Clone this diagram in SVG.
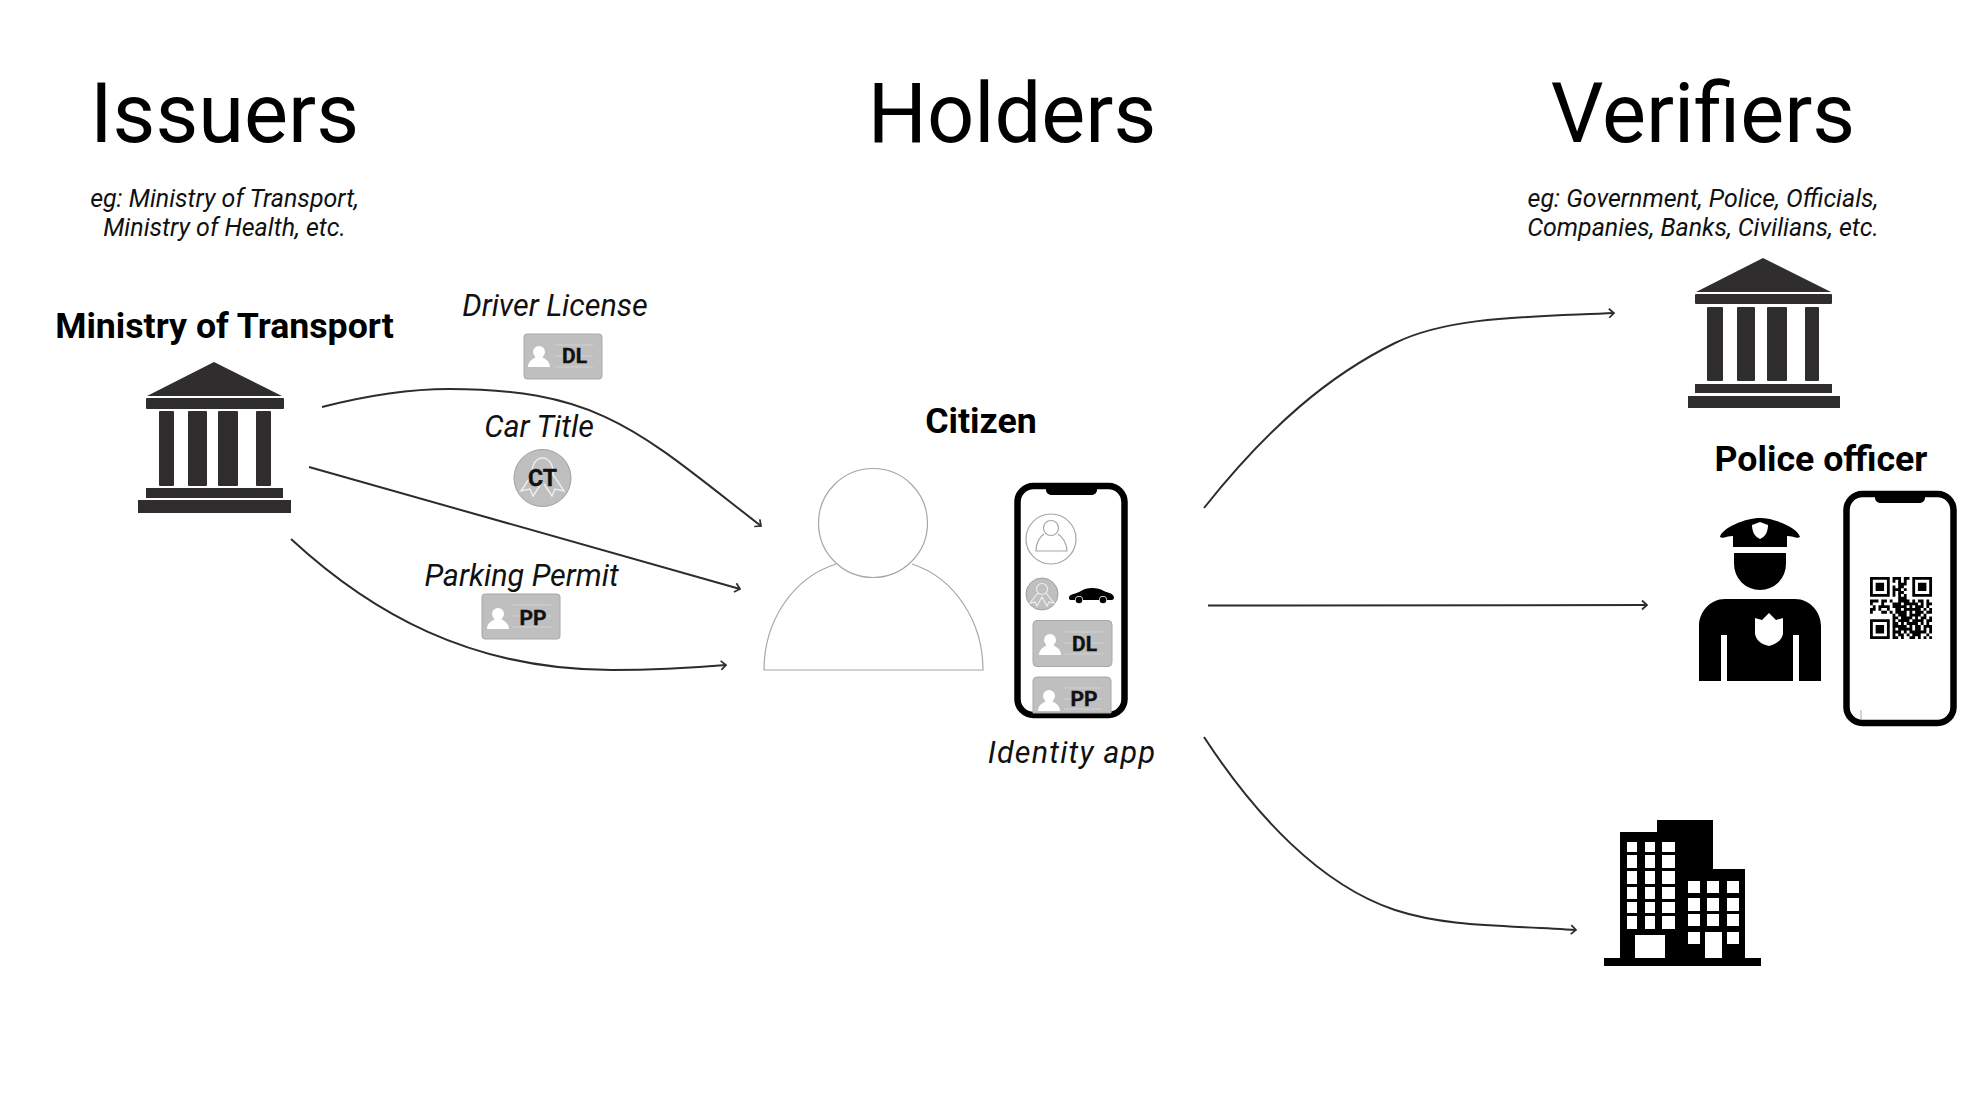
<svg xmlns="http://www.w3.org/2000/svg" xmlns:xlink="http://www.w3.org/1999/xlink" width="1966" height="1108" viewBox="0 0 1966 1108">
<style>
text{font-family:Roboto,"Liberation Sans",sans-serif;fill:#000;text-anchor:middle}
.title{font-size:83px}
.sub{font-size:25px;font-style:italic;fill:#111}
.b{font-size:35.700px;font-weight:700}
.i{font-size:30.500px;font-style:italic;fill:#111}
.code{font-weight:700;fill:#111;stroke:#111;stroke-width:.4;font-size:21px}
.conn{fill:none;stroke:#2c2c2c;stroke-width:2;marker-end:url(#arrow)}
.bank{fill:#2f2d2e}
.card{fill:#bfbfbf;stroke:#a8a8a8;stroke-width:1}
.ln{stroke:#d2d2d2;stroke-width:1;fill:none}
.w{fill:#fff}
.k{fill:#000}
.thin{fill:none;stroke:#a6a6a6;stroke-width:1.200}
.phone{fill:#fff;stroke:#000;stroke-width:6.500}
</style>
<defs>
<marker id="arrow" markerUnits="userSpaceOnUse" markerWidth="12" markerHeight="12" refX="9" refY="6" orient="auto" overflow="visible">
<path d="M4 1.500L9 6L4 10.500" fill="none" stroke="#2c2c2c" stroke-width="1.700"/>
</marker>
<g id="pers"><circle cx="0" cy="-5" r="6" class="w"/><path d="M-11 10C-11 4-6 2-3 0H3C6 2 11 4 11 10Z" class="w"/></g>
</defs>
<rect width="1966" height="1108" fill="#fff"/>

<g id="connectors">
<path class="conn" d="M322 407C365 396 410 389 449 389C600 389 640 432 761 526"/>
<path class="conn" d="M309 467L740 589"/>
<path class="conn" d="M291 539C370 612 470 670 612 670C650 670 690 668 726 665"/>
<path class="conn" d="M1204 508C1270 425 1330 375 1395 343C1450 316 1530 317 1614 313"/>
<path class="conn" d="M1208 605.500L1647 605"/>
<path class="conn" d="M1204 737C1255 815 1320 885 1395 910C1450 928 1510 925 1576 930"/>
</g>

<g id="headings">
<text class="title" x="224.500" y="142">Issuers</text>
<text class="title" x="1012" y="142">Holders</text>
<text class="title" x="1703" y="142">Verifiers</text>
<text class="sub" x="224.500" y="207">eg: Ministry of Transport,</text>
<text class="sub" x="224.500" y="236">Ministry of Health, etc.</text>
<text class="sub" x="1703" y="207">eg: Government, Police, Officials,</text>
<text class="sub" x="1703" y="236">Companies, Banks, Civilians, etc.</text>
</g>

<g id="issuer">
<text class="b" x="224.500" y="338">Ministry of Transport</text>
<g class="bank">
<path d="M214 362L282 396H147Z"/>
<rect x="146" y="398" width="138" height="11" rx="1"/>
<rect x="159" y="411" width="15" height="75" rx="1"/>
<rect x="188" y="411" width="19" height="75" rx="1"/>
<rect x="218" y="411" width="20" height="75" rx="1"/>
<rect x="256" y="411" width="15" height="75" rx="1"/>
<rect x="146" y="488" width="137" height="10"/>
<rect x="138" y="500" width="153" height="13"/>
</g>
</g>

<g id="driver-license">
<text class="i" x="555" y="316">Driver License</text>
<rect class="card" x="524" y="334" width="78" height="45" rx="3"/>
<path class="ln" d="M555 345H593M555 356H593M555 367H593"/>
<use xlink:href="#pers" href="#pers" transform="translate(539 357)"/>
<text class="code" x="574.500" y="363">DL</text>
</g>

<g id="car-title">
<text class="i" x="539" y="437">Car Title</text>
<circle cx="542.500" cy="478" r="28.500" fill="#bfbfbf" stroke="#a0a0a0"/>
<path d="M532 476C530 452 555 452 553 476M533 473L521 491L530 489L533 496L541 484M552 473L564 491L555 489L552 496L544 484" fill="none" stroke="#eee" stroke-width="1.400"/>
<text class="code" x="542.500" y="486" style="font-size:23px">CT</text>
</g>

<g id="parking-permit">
<text class="i" x="521.500" y="586">Parking Permit</text>
<rect class="card" x="482" y="594" width="78" height="45" rx="3"/>
<path class="ln" d="M513 605H551M513 616H551M513 627H551"/>
<use xlink:href="#pers" href="#pers" transform="translate(498 619)"/>
<text class="code" x="533" y="625">PP</text>
</g>

<g id="citizen">
<text class="b" x="981" y="433">Citizen</text>
<circle class="thin" cx="873" cy="523" r="54.500"/>
<path class="thin" d="M836 564C792 578 764 622 764 670H983C983 622 955 578 912 564"/>
</g>

<g id="identity-app">
<rect class="phone" x="1017.500" y="486" width="107" height="229" rx="16"/>
<path class="k" d="M1046 486H1097V490C1097 493 1094 495 1091 495H1052C1049 495 1046 493 1046 490Z"/>
<circle class="thin" cx="1051" cy="539" r="25"/>
<circle class="thin" cx="1051" cy="528" r="7.500"/>
<path class="thin" d="M1044 534C1039 537 1036 544 1036 551H1067C1067 544 1063 537 1058 534"/>
<circle cx="1042" cy="594" r="16" fill="#bfbfbf" stroke="#a0a0a0"/>
<circle cx="1042" cy="589" r="5.500" fill="none" stroke="#eee" stroke-width="1.200"/>
<path d="M1038 593L1030 603L1035 602L1037 606L1042 597L1047 606L1049 602L1054 603L1046 593" fill="none" stroke="#eee" stroke-width="1.200"/>
<path class="k" d="M1069 597C1070 594 1076 594 1081 591C1086 587 1098 587 1104 591C1108 593 1113 593 1114 597C1114 600 1112 600 1111 600H1107A4 4 0 0 0 1099 600H1083A4 4 0 0 0 1075 600H1071C1069 600 1069 599 1069 597Z"/>
<circle class="k" cx="1079" cy="600" r="3.300"/><circle class="k" cx="1103" cy="600" r="3.300"/>
<rect class="card" x="1033" y="620.500" width="79" height="46" rx="4"/>
<path class="ln" d="M1065 632H1103M1065 643H1103M1065 654H1103"/>
<use xlink:href="#pers" href="#pers" transform="translate(1050 645)"/>
<text class="code" x="1084.500" y="651">DL</text>
<path class="card" d="M1033 713V681Q1033 677 1037 677H1107Q1111 677 1111 681V713Z"/>
<path class="ln" d="M1064 688H1102M1064 699H1102M1064 709H1102"/>
<use xlink:href="#pers" href="#pers" transform="translate(1049 701)"/>
<text class="code" x="1084" y="706">PP</text>
<text class="i" x="1072" y="763" letter-spacing="1.200">Identity app</text>
</g>

<g id="verifier-government">
<g class="bank">
<path d="M1763 258L1831 292H1696Z"/>
<rect x="1695" y="294" width="137" height="10" rx="1"/>
<rect x="1707" y="307" width="16" height="74" rx="1"/>
<rect x="1737" y="307" width="18" height="74" rx="1"/>
<rect x="1767" y="307" width="20" height="74" rx="1"/>
<rect x="1805" y="307" width="14" height="74" rx="1"/>
<rect x="1695" y="384" width="137" height="9"/>
<rect x="1688" y="396" width="152" height="12"/>
</g>
</g>

<g id="verifier-police">
<text class="b" x="1821" y="471">Police officer</text>
<path class="k" d="M1720 537C1722 528 1745 518 1760 518C1775 518 1798 528 1800 537C1797 539 1793 536 1787 536V547H1733V536C1727 536 1723 539 1720 537Z"/>
<path class="w" d="M1752 525L1760 522L1768 525C1768 532 1765 537 1760 539C1755 537 1752 532 1752 525Z"/>
<path class="k" d="M1734 553H1786V564A26 26 0 0 1 1734 564Z"/>
<path class="k" d="M1725 599H1795C1810 599 1821 612 1821 626V681H1799V635H1793V681H1727V635H1721V681H1699V626C1699 612 1710 599 1725 599Z"/>
<path class="w" d="M1755 618L1762 620L1769 613L1776 620L1783 618V634C1781 642 1775 644 1769 646C1762 644 1757 642 1755 634Z"/>
<rect class="phone" x="1846.500" y="494" width="107" height="229" rx="16"/>
<path class="k" d="M1875 494H1925V498C1925 501 1922 503 1919 503H1881C1878 503 1875 501 1875 498Z"/>
<path transform="translate(1870 577) scale(2.820)" fill="none" stroke="#000" stroke-width="1" d="M0 .5h7M8 .5h3M12 .5h2M15 .5h7M0 1.500h1M6 1.500h1M8 1.500h1M10 1.500h1M12 1.500h1M15 1.500h1M21 1.500h1M0 2.500h1M2 2.500h3M6 2.500h1M10 2.500h3M15 2.500h1M17 2.500h3M21 2.500h1M0 3.500h1M2 3.500h3M6 3.500h1M8 3.500h1M10 3.500h2M15 3.500h1M17 3.500h3M21 3.500h1M0 4.500h1M2 4.500h3M6 4.500h1M8 4.500h3M12 4.500h1M15 4.500h1M17 4.500h3M21 4.500h1M0 5.500h1M6 5.500h1M8 5.500h1M10 5.500h2M15 5.500h1M21 5.500h1M0 6.500h7M8 6.500h1M10 6.500h1M12 6.500h1M15 6.500h7M10 7.500h3M0 8.500h3M4 8.500h2M7 8.500h1M10 8.500h4M15 8.500h1M17 8.500h2M20 8.500h1M0 9.500h1M4 9.500h1M8 9.500h3M12 9.500h5M18 9.500h1M20 9.500h2M1 10.500h1M3 10.500h4M8 10.500h5M14 10.500h1M16 10.500h3M20 10.500h1M0 11.500h2M3 11.500h1M6 11.500h1M9 11.500h2M12 11.500h6M19 11.500h1M21 11.500h1M0 12.500h1M4 12.500h2M7 12.500h1M9 12.500h4M14 12.500h1M16 12.500h3M20 12.500h2M8 13.500h1M10 13.500h3M14 13.500h4M19 13.500h1M8 14.500h2M11 14.500h4M16 14.500h1M18 14.500h2M21 14.500h1M0 15.500h7M8 15.500h1M10 15.500h4M15 15.500h4M20 15.500h2M0 16.500h1M6 16.500h1M8 16.500h2M11 16.500h1M13 16.500h4M18 16.500h1M20 16.500h1M0 17.500h1M2 17.500h3M6 17.500h1M8 17.500h5M14 17.500h1M16 17.500h2M19 17.500h3M0 18.500h1M2 18.500h3M6 18.500h1M8 18.500h1M10 18.500h5M16 18.500h2M19 18.500h1M21 18.500h1M0 19.500h1M2 19.500h3M6 19.500h1M8 19.500h3M12 19.500h1M14 19.500h6M21 19.500h1M0 20.500h1M6 20.500h1M8 20.500h1M10 20.500h2M13 20.500h1M15 20.500h3M20 20.500h1M0 21.500h7M8 21.500h2M11 21.500h1M14 21.500h2M17 21.500h1M19 21.500h1M21 21.500h1"/>
<path d="M1861 710V720" stroke="#aaa" stroke-width="1"/>
</g>

<g id="verifier-company">
<path class="k" d="M1604 958H1620V832H1657V820H1713V869H1745V958H1761V966H1604Z"/>
<g class="w">
<path d="M1627 842h10v10h-10zM1645 842h10v10h-10zM1662 842h13v10h-13zM1627 855h10v13h-10zM1645 855h10v13h-10zM1662 855h13v13h-13zM1627 871h10v13h-10zM1645 871h10v13h-10zM1662 871h13v13h-13zM1627 887h10v12h-10zM1645 887h10v12h-10zM1662 887h13v12h-13zM1627 902h10v11h-10zM1645 902h10v11h-10zM1662 902h13v11h-13zM1627 916h10v13h-10zM1645 916h10v13h-10zM1662 916h13v13h-13z"/>
<path d="M1635 935h30v23h-30z"/>
<path d="M1688 881h12v12h-12zM1707 881h12v12h-12zM1727 881h12v12h-12zM1688 898h12v13h-12zM1707 898h12v13h-12zM1727 898h12v13h-12zM1688 914h12v12h-12zM1707 914h12v12h-12zM1727 914h12v12h-12zM1688 932h12v12h-12zM1727 932h12v12h-12z"/>
<path d="M1705 932h17v26h-17z"/>
</g>
</g>
</svg>
